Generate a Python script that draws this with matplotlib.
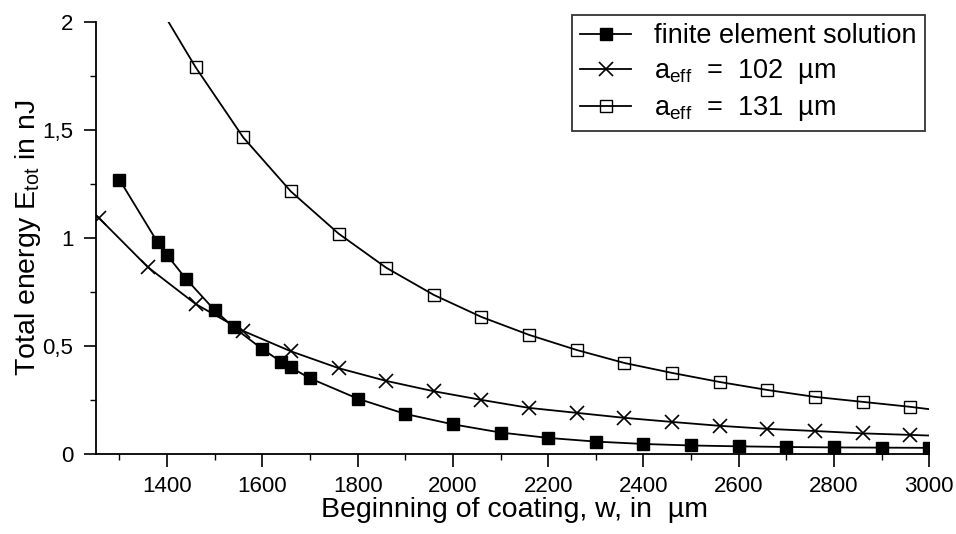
import numpy as np
import matplotlib
matplotlib.use('Agg')
import matplotlib.pyplot as plt
from matplotlib.ticker import MultipleLocator, FixedLocator, FixedFormatter

# フォント設定---------------------------------------------------------------
plt.rcParams['font.family'] = ['Liberation Sans', 'DejaVu Sans']
plt.rcParams['mathtext.fontset'] = 'custom'
plt.rcParams['mathtext.rm'] = 'Liberation Sans'
plt.rcParams['mathtext.it'] = 'Liberation Sans'

# データ--------------------------------------------------------------------
# 有限要素解 (塗りつぶし四角)
fe_w = [1300, 1380, 1400, 1440, 1500, 1540, 1600, 1640, 1660, 1700, 1800, 1900,
        2000, 2100, 2200, 2300, 2400, 2500, 2600, 2700, 2800, 2900, 3000]
fe_E = [1.27, 0.98, 0.92, 0.81, 0.665, 0.586, 0.485, 0.426, 0.40, 0.35, 0.256, 0.185,
        0.137, 0.099, 0.074, 0.057, 0.046, 0.039, 0.035, 0.032, 0.030, 0.029, 0.028]

# a_eff = 102 um (×印)
a102_w = [1258, 1360, 1460, 1560, 1660, 1760, 1860, 1960, 2060, 2160, 2260, 2360,
          2460, 2560, 2660, 2760, 2860, 2960]
a102_E = [1.09, 0.864, 0.694, 0.569, 0.475, 0.397, 0.338, 0.29, 0.25, 0.213, 0.19, 0.167,
          0.148, 0.13, 0.116, 0.106, 0.095, 0.088]
# 曲線の端点
a102_line_w = [1250] + a102_w + [3000]
a102_line_E = [1.105] + a102_E + [0.085]

# a_eff = 131 um (白抜き四角)
a131_w = [1460, 1560, 1660, 1760, 1860, 1960, 2060, 2160, 2260, 2360, 2460, 2560,
          2660, 2760, 2860, 2960]
a131_E = [1.79, 1.465, 1.215, 1.02, 0.862, 0.736, 0.634, 0.551, 0.481, 0.421, 0.375, 0.333,
          0.296, 0.264, 0.241, 0.218]
a131_line_w = [1403, 1430] + a131_w + [3000]
a131_line_E = [2.0, 1.90] + a131_E + [0.207]

# 軸目盛
x_ticks = [1400, 1600, 1800, 2000, 2200, 2400, 2600, 2800, 3000]
y_ticks = [0, 0.5, 1, 1.5, 2]
y_ticklabels = ['0', '0,5', '1', '1,5', '2']

# グラフ出力----------------------------------------------------------------
fig = plt.figure(figsize=(9.56, 5.34), dpi=100)
ax = fig.add_axes([0.100, 0.150, 0.872, 0.809])

ax.plot(fe_w, fe_E, color='black', lw=1.3, marker='s', ms=8, mfc='black', mec='black',
        label='finite element solution')
ax.plot(a102_line_w, a102_line_E, color='black', lw=1.3)
ax.plot(a102_w, a102_E, ls='none', marker='x', ms=10, mew=1.2, color='black')
ax.plot(a131_line_w, a131_line_E, color='black', lw=1.3)
ax.plot(a131_w, a131_E, ls='none', marker='s', ms=8, mfc='none', mec='black', mew=1.0)

# 凡例用ダミー
ax.plot([], [], color='black', lw=1.3, marker='x', ms=10, mew=1.2,
        label=r'a$_{\mathrm{eff}}$  =  102  µm')
ax.plot([], [], color='black', lw=1.3, marker='s', ms=8, mfc='none', mew=1.0,
        label=r'a$_{\mathrm{eff}}$  =  131  µm')

ax.set_xlim(1250, 3000)
ax.set_ylim(0, 2)

for s in ['top', 'right']:
    ax.spines[s].set_visible(False)
for s in ['left', 'bottom']:
    ax.spines[s].set_linewidth(1.3)

ax.xaxis.set_major_locator(FixedLocator(x_ticks))
ax.xaxis.set_minor_locator(MultipleLocator(100))
ax.yaxis.set_major_locator(FixedLocator(y_ticks))
ax.yaxis.set_major_formatter(FixedFormatter(y_ticklabels))
ax.yaxis.set_minor_locator(MultipleLocator(0.25))
ax.tick_params(which='major', direction='out', length=9, width=1.2, labelsize=16, pad=7)
ax.tick_params(which='minor', direction='out', length=4.5, width=1.0)

# 軸ラベル (位置は図座標で指定)
fig.text(0.538, 0.045, 'Beginning of coating, w, in  µm', fontsize=20.5,
         ha='center', va='center')
fig.text(0.029, 0.555, r'Total energy E$_{\mathrm{tot}}$ in nJ', fontsize=20.5,
         ha='center', va='center', rotation=90)

leg = ax.legend(loc='upper right', bbox_to_anchor=(0.995, 1.016), fontsize=19.5,
                frameon=True, fancybox=False, edgecolor='black', handlelength=1.9,
                borderpad=0.3, labelspacing=0.3, handletextpad=0.85, borderaxespad=0)
leg.get_frame().set_linewidth(1.3)

fig.savefig('out.png', dpi=100)
